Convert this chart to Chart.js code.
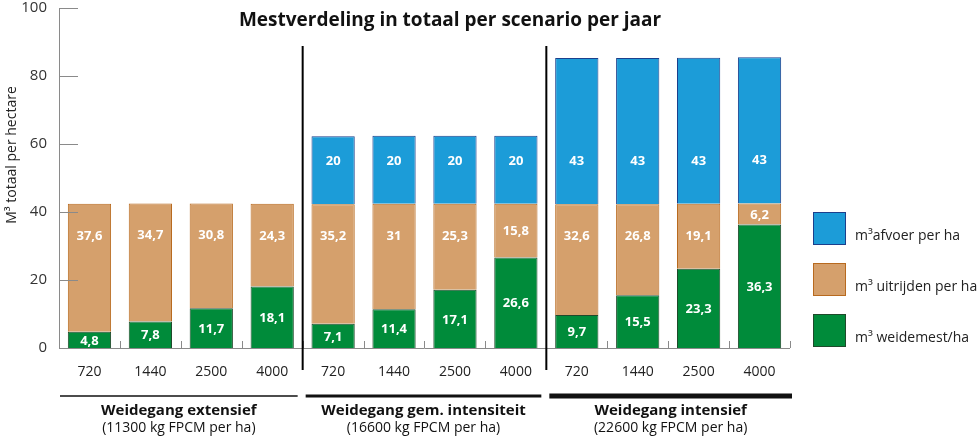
<!DOCTYPE html>
<html>
<head>
<meta charset="utf-8">
<script src="https://cdn.jsdelivr.net/npm/chart.js@4"></script>
<style>
  html, body { margin: 0; padding: 0; background: #fff; }
  #wrap { width: 978px; height: 439px; }
</style>
</head>
<body>
<div id="wrap"><canvas id="chart" width="978" height="439"></canvas></div>
<script>
// categorieen (kg FPCM per ha per scenario)
var categories = ['720', '1440', '2500', '4000', '720', '1440', '2500', '4000', '720', '1440', '2500', '4000'];
var weidemest = [4.8, 7.8, 11.7, 18.1, 7.1, 11.4, 17.1, 26.6, 9.7, 15.5, 23.3, 36.3];
var uitrijden = [37.6, 34.7, 30.8, 24.3, 35.2, 31, 25.3, 15.8, 32.6, 26.8, 19.1, 6.2];
var afvoer = [0, 0, 0, 0, 20, 20, 20, 20, 43, 43, 43, 43];
var yTicks = [0, 20, 40, 60, 80, 100];
var groupNames = ['Weidegang extensief', 'Weidegang gem. intensiteit', 'Weidegang intensief'];
var groupSub = ['(11300 kg FPCM per ha)', '(16600 kg FPCM per ha)', '(22600 kg FPCM per ha)'];
var seriesNames = ['m\u00B3 weidemest/ha', 'm\u00B3 uitrijden per ha', 'm\u00B3afvoer per ha'];
var title = 'Mestverdeling in totaal per scenario per jaar';

var FONT = '"Open Sans", "Noto Sans", sans-serif';

function fmt(v) {
  return String(v).replace('.', ',');
}

// alles wat Chart.js zelf niet tekent: labels, ticks, scheidingslijnen, legenda
var extras = {
  id: 'extras',
  afterDatasetsDraw: function (chart) {
    var ctx = chart.ctx;
    var x = chart.scales.x, y = chart.scales.y;
    var area = chart.chartArea;
    var half = (x.getPixelForValue(1) - x.getPixelForValue(0)) / 2;

    ctx.save();
    // waarden in de balken
    ctx.fillStyle = '#fff';
    ctx.font = 'bold 13px ' + FONT;
    ctx.textAlign = 'center';
    ctx.textBaseline = 'middle';
    chart.data.datasets.forEach(function (ds, di) {
      var meta = chart.getDatasetMeta(di);
      meta.data.forEach(function (bar, i) {
        var v = ds.data[i];
        if (!v) return;
        var top = bar.y, bottom = bar.base;
        var mid = (top + bottom) / 2;
        var ly = mid;
        if (di === 1) ly = Math.min(mid, top + 31);
        if (di === 2) ly = bottom - 44;
        ctx.fillText(fmt(v), bar.x, ly + 1);
      });
    });

    // titel
    ctx.fillStyle = '#111';
    ctx.font = 'bold 19px ' + FONT;
    ctx.fillText(title, 450, 21);

    // y-as lijn en ticks naar binnen
    ctx.strokeStyle = '#8a8a8a';
    ctx.lineWidth = 1;
    ctx.beginPath();
    ctx.moveTo(area.left + 0.5, y.getPixelForValue(100));
    ctx.lineTo(area.left + 0.5, area.bottom);
    yTicks.forEach(function (t) {
      if (t === 0) return;
      var py = Math.round(y.getPixelForValue(t)) + 0.5;
      ctx.moveTo(area.left, py);
      ctx.lineTo(area.left + 19, py);
    });
    // x-as
    ctx.moveTo(area.left, area.bottom + 0.5);
    ctx.lineTo(area.right, area.bottom + 0.5);
    for (var i = 0; i < categories.length; i++) {
      var px = Math.round(x.getPixelForValue(i) + half) + 0.5;
      ctx.moveTo(px, area.bottom);
      ctx.lineTo(px, area.bottom - 7);
    }
    ctx.stroke();

    // scheidingslijnen tussen scenario's
    ctx.strokeStyle = '#000';
    ctx.lineWidth = 2;
    [3, 7].forEach(function (i) {
      var px = x.getPixelForValue(i) + half;
      ctx.beginPath();
      ctx.moveTo(px, 46);
      ctx.lineTo(px, 370);
      ctx.stroke();
    });

    // groepen onder de as
    var widths = [1.5, 3, 5];
    for (var g = 0; g < 3; g++) {
      var l = x.getPixelForValue(g * 4) - half + (g === 0 ? 1 : 3);
      var r = x.getPixelForValue(g * 4 + 3) + half - (g === 2 ? -2 : 5);
      ctx.strokeStyle = '#111';
      ctx.lineWidth = widths[g];
      ctx.beginPath();
      ctx.moveTo(l, 396);
      ctx.lineTo(r, 396);
      ctx.stroke();
      var cx = (l + r) / 2;
      ctx.fillStyle = '#111';
      ctx.font = 'bold 15px ' + FONT;
      ctx.fillText(groupNames[g], cx, 411);
      ctx.font = '14px ' + FONT;
      ctx.fillText(groupSub[g], cx, 428);
    }

    // y-as titel
    ctx.save();
    ctx.translate(12, 155);
    ctx.rotate(-Math.PI / 2);
    ctx.font = '14px ' + FONT;
    ctx.fillStyle = '#222';
    ctx.fillText('M\u00B3 totaal per hectare', 0, 0);
    ctx.restore();

    // legenda
    var order = [2, 1, 0];
    order.forEach(function (di, k) {
      var ds = chart.data.datasets[di];
      var by = 212 + k * 51;
      ctx.fillStyle = ds.backgroundColor;
      ctx.fillRect(813, by, 33, 33);
      ctx.strokeStyle = ds.borderColor;
      ctx.lineWidth = 1;
      ctx.strokeRect(813.5, by + 0.5, 32, 32);
      ctx.fillStyle = '#222';
      ctx.font = '14px ' + FONT;
      ctx.textAlign = 'left';
      ctx.fillText(seriesNames[di], 855, by + 24);
    });
    ctx.restore();
  }
};

var ctx = document.getElementById('chart').getContext('2d');
var myChart = new Chart(ctx, {
  type: 'bar',
  data: {
    labels: categories,
    datasets: [
      { label: seriesNames[0], data: weidemest, backgroundColor: '#008b3a', borderColor: '#1f4a2b', borderWidth: 1 },
      { label: seriesNames[1], data: uitrijden, backgroundColor: '#d5a06c', borderColor: '#b86a1f', borderWidth: 1 },
      { label: seriesNames[2], data: afvoer, backgroundColor: '#1c9cd8', borderColor: '#1c3f8c', borderWidth: 1 }
    ]
  },
  options: {
    responsive: false,
    animation: false,
    layout: { padding: { top: 8, right: 188, left: 0, bottom: 0 } },
    datasets: { bar: { categoryPercentage: 1, barPercentage: 0.71 } },
    plugins: {
      legend: { display: false },
      tooltip: { enabled: false },
      title: { display: false }
    },
    scales: {
      x: {
        stacked: true,
        grid: { display: false, drawTicks: false },
        border: { display: false },
        ticks: { color: '#222', font: { family: FONT, size: 14 }, padding: 16, maxRotation: 0, autoSkip: false },
        afterFit: function (s) { s.height = 91; s.paddingLeft = 0; s.paddingRight = 0; }
      },
      y: {
        stacked: true,
        min: 0,
        max: 100,
        afterBuildTicks: function (s) { s.ticks = yTicks.map(function (v) { return { value: v }; }); },
        grid: { display: false, drawTicks: false },
        border: { display: false },
        ticks: { color: '#333', font: { family: FONT, size: 15 }, padding: 12 },
        afterFit: function (s) { s.width = 59; s.paddingTop = 0; s.paddingBottom = 0; }
      }
    }
  },
  plugins: [extras]
});
</script>
</body>
</html>
